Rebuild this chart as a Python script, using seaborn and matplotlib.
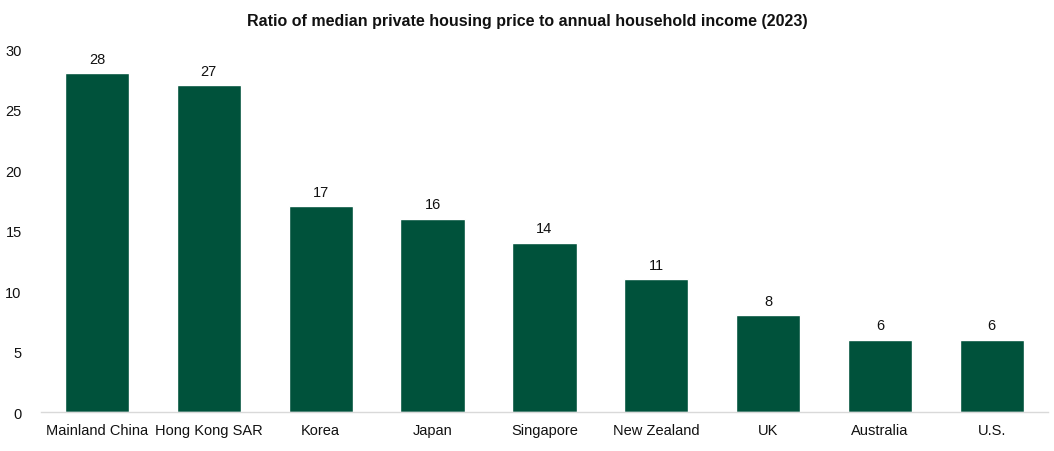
import matplotlib
matplotlib.use('Agg')
import matplotlib.pyplot as plt
import seaborn as sns
import pandas as pd

#data
countries = ['Mainland China', 'Hong Kong SAR', 'Korea', 'Japan', 'Singapore',
             'New Zealand', 'UK', 'Australia', 'U.S.']
ratios = [28, 27, 17, 16, 14, 11, 8, 6, 6]
yticks = [0, 5, 10, 15, 20, 25, 30]

df = pd.DataFrame({'country': countries, 'ratio': ratios})

sns.set_theme(style='white')
plt.rcParams['font.family'] = ['Liberation Sans', 'DejaVu Sans']

fig = plt.figure(figsize=(10.54, 4.52), dpi=100)
ax = fig.add_axes([0.039, 0.086, 0.955, 0.803])

sns.barplot(data=df, x='country', y='ratio', color='#00523B', saturation=1,
            width=0.575, ax=ax)

for i, v in enumerate(ratios):
    ax.text(i, v + 0.6, str(v), ha='center', va='bottom', fontsize=10.5, color='#111111')

ax.set_ylim(0, 30)
ax.set_xlim(-0.5, len(countries) - 0.5)
ax.set_yticks(yticks)
ax.set_xlabel('')
ax.set_ylabel('')
ax.tick_params(axis='both', labelsize=10.5, colors='#111111', length=0)
ax.tick_params(axis='y', pad=14)
ax.tick_params(axis='x', pad=8)
for s in ['top', 'right', 'left']:
    ax.spines[s].set_visible(False)
ax.spines['bottom'].set_color('#d9d9d9')
ax.spines['bottom'].set_linewidth(1)

fig.suptitle('Ratio of median private housing price to annual household income (2023)',
             fontsize=11.5, fontweight='bold', x=0.5, y=0.97, color='#111111')

fig.savefig('out.png', dpi=100)
